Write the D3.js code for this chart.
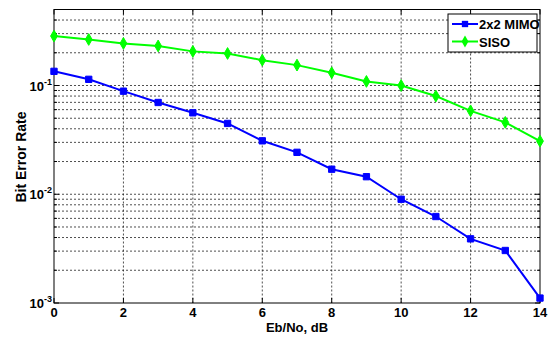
<!DOCTYPE html>
<html><head><meta charset="utf-8">
<script src="https://cdn.jsdelivr.net/npm/d3@7"></script>
<style>body{margin:0;background:#fff}svg{display:block}text{font-family:"Liberation Sans",Arial,sans-serif;font-weight:bold}</style>
</head><body>
<script>
const snr = [0,1,2,3,4,5,6,7,8,9,10,11,12,13,14];
const mimo = [0.135,0.114,0.0887,0.0698,0.0561,0.0448,0.031,0.0243,0.0170,0.0145,0.0090,0.00624,0.00389,0.00304,0.00111];
const siso = [0.285,0.265,0.244,0.231,0.206,0.197,0.171,0.154,0.131,0.109,0.100,0.080,0.0585,0.0458,0.0308];
const xTicks = [0,2,4,6,8,10,12,14];
const yDecades = [-3,-2,-1];
const seriesNames = ["2x2 MIMO","SISO"];

const W=550,H=338, L=54,R=540,T=9.5,B=303;
const svg=d3.select("body").append("svg").attr("width",W).attr("height",H);
const x=d3.scaleLinear().domain([0,14]).range([L,R]);
const y=d3.scaleLog().domain([1e-3,0.5]).range([B,T]);

// grid
const minor=[];
[-3,-2,-1].forEach(e=>{for(let k=1;k<10;k++){const v=k*Math.pow(10,e);if(v<=0.5+1e-9)minor.push(v);}});
const g=svg.append("g");
g.selectAll("line.h").data(minor.filter(v=>v>1e-3&&v<0.5)).enter().append("line")
 .attr("x1",L).attr("x2",R).attr("y1",d=>y(d)).attr("y2",d=>y(d))
 .attr("stroke","#222").attr("stroke-width",0.8).attr("stroke-dasharray","2,2");
g.selectAll("line.v").data(xTicks.slice(1,-1)).enter().append("line")
 .attr("y1",T).attr("y2",B).attr("x1",d=>x(d)).attr("x2",d=>x(d))
 .attr("stroke","#222").attr("stroke-width",0.8).attr("stroke-dasharray","2,2");

// ticks (inside)
const tk=svg.append("g").attr("stroke","#000").attr("stroke-width",1);
xTicks.forEach(t=>{tk.append("line").attr("x1",x(t)).attr("x2",x(t)).attr("y1",B).attr("y2",B-5);
 tk.append("line").attr("x1",x(t)).attr("x2",x(t)).attr("y1",T).attr("y2",T+5);});
minor.forEach(v=>{const len=(Math.abs(Math.log10(v)-Math.round(Math.log10(v)))<1e-6)?5:3;
 tk.append("line").attr("x1",L).attr("x2",L+len).attr("y1",y(v)).attr("y2",y(v));
 tk.append("line").attr("x1",R).attr("x2",R-len).attr("y1",y(v)).attr("y2",y(v));});

svg.append("rect").attr("x",L).attr("y",T).attr("width",R-L).attr("height",B-T).attr("fill","none").attr("stroke","#000").attr("stroke-width",1);

// x tick labels
svg.selectAll("text.xt").data(xTicks).enter().append("text")
 .attr("x",d=>x(d)).attr("y",B+14).attr("text-anchor","middle").attr("font-size",13).text(d=>d);
// y tick labels
yDecades.forEach(e=>{const t=svg.append("text").attr("x",L-2).attr("y",y(Math.pow(10,e))+5).attr("text-anchor","end").attr("font-size",13);
 t.append("tspan").text("10");
 t.append("tspan").attr("dy",-6).attr("font-size",9).text(String(e));});

svg.append("text").attr("x",(L+R)/2).attr("y",331.5).attr("text-anchor","middle").attr("font-size",13).text("Eb/No, dB");
svg.append("text").attr("transform",`translate(25.5,157) rotate(-90)`).attr("text-anchor","middle").attr("font-size",14).text("Bit Error Rate");

const line=d3.line().x((d,i)=>x(snr[i])).y(d=>y(d));
const cols=["#0000ff","#00ff00"];
[mimo,siso].forEach((s,si)=>{
 svg.append("path").attr("d",line(s)).attr("fill","none").attr("stroke",cols[si]).attr("stroke-width",2);
 const sym=d3.symbol().type(si==0?d3.symbolSquare:d3.symbolDiamond).size(40);
 svg.selectAll(null).data(s).enter().append("path").attr("d",sym)
  .attr("transform",(d,i)=>`translate(${x(snr[i])},${y(d)})`).attr("fill",cols[si]).attr("stroke",cols[si]);
});

// legend
const lg=svg.append("g");
lg.append("rect").attr("x",448).attr("y",14).attr("width",89).attr("height",38).attr("fill","#fff").attr("stroke","#000").attr("stroke-width",1);
seriesNames.forEach((n,i)=>{const yy=24+i*17.5;
 lg.append("line").attr("x1",452).attr("x2",478).attr("y1",yy).attr("y2",yy).attr("stroke",cols[i]).attr("stroke-width",2);
 lg.append("path").attr("d",d3.symbol().type(i==0?d3.symbolSquare:d3.symbolDiamond).size(40)).attr("transform",`translate(465,${yy})`).attr("fill",cols[i]);
 lg.append("text").attr("x",479).attr("y",yy+5).attr("font-size",13).text(n);
});
</script>
</body></html>
